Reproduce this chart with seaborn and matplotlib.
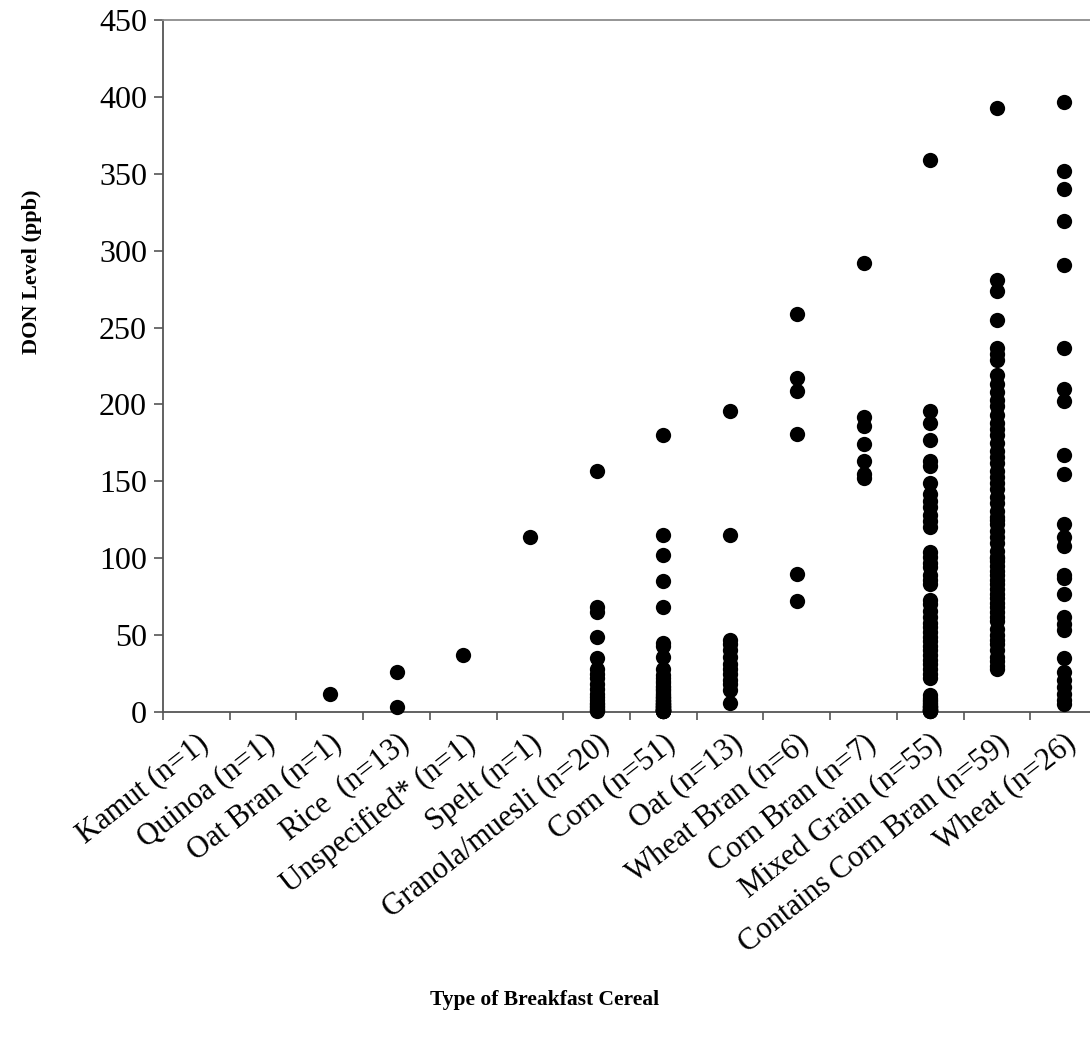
import numpy as np
import pandas as pd
import matplotlib
matplotlib.use("Agg")
import matplotlib.pyplot as plt
import seaborn as sns

# category labels (x axis, in plotted order)
categories = [
    "Kamut (n=1)", "Quinoa (n=1)", "Oat Bran (n=1)", "Rice  (n=13)",
    "Unspecified* (n=1)", "Spelt (n=1)", "Granola/muesli (n=20)",
    "Corn (n=51)", "Oat (n=13)", "Wheat Bran (n=6)", "Corn Bran (n=7)",
    "Mixed Grain (n=55)", "Contains Corn Bran (n=59)", "Wheat (n=26)",
]

# DON values (ppb)
kamut = []
quinoa = []
oat_bran = [12]
rice = [26, 3]
unspecified = [37]
spelt = [114]
granola = [157, 68, 65, 49, 35, 28, 25, 22, 18, 15, 12, 10, 8, 6, 5, 4, 3, 2, 1, 0.5]
corn = [180, 115, 102, 85, 68, 45, 43, 36, 28, 24, 22, 20, 19, 17, 16, 15, 14,
        13, 12, 11, 10, 10, 9, 8, 8, 7, 7, 6, 6, 5, 5, 5, 4, 4, 4, 3, 3, 3,
        2, 2, 2, 2, 1, 1, 1, 1, 0.5, 0.5, 0.5, 0.5, 0.5]
oat = [196, 115, 47, 44, 40, 36, 31, 28, 25, 21, 18, 14, 6]
wheat_bran = [259, 217, 209, 181, 90, 72]
corn_bran = [292, 192, 186, 174, 163, 155, 152]
mixed_grain = [359, 196, 188, 177, 163, 160, 149, 142, 137, 133, 128, 124, 120,
               104, 101, 97, 94, 89, 86, 83, 73, 70, 66, 62, 58, 55, 52, 49, 46,
               43, 40, 37, 34, 31, 28, 25, 22, 11, 9, 8, 7, 6, 5, 4, 4, 3, 3,
               2, 2, 1, 1, 1, 0.5, 0.5, 0.5]
contains_corn_bran = [393, 281, 274, 255, 237, 233, 229, 219, 213, 208, 203,
                      199, 193, 188, 184, 180, 175, 170, 166, 162, 157, 153,
                      149, 145, 140, 136, 131, 127, 125, 122, 118, 114, 110,
                      105, 101, 100, 98, 95, 92, 89, 86, 83, 80, 77, 74, 71,
                      68, 65, 62, 59, 54, 50, 47, 44, 40, 36, 33, 30, 28]
wheat = [397, 352, 340, 319, 291, 237, 210, 202, 167, 155, 122, 114, 108, 89,
         87, 77, 62, 57, 53, 35, 26, 21, 16, 12, 8, 5]

series = [kamut, quinoa, oat_bran, rice, unspecified, spelt, granola, corn, oat,
          wheat_bran, corn_bran, mixed_grain, contains_corn_bran, wheat]

df = pd.DataFrame(
    [(cat, v) for cat, vals in zip(categories, series) for v in vals],
    columns=["cereal", "don"],
)

sns.set_style("white")
plt.rcParams["font.family"] = ["Liberation Serif", "DejaVu Serif"]
plt.rcParams["text.color"] = "black"
plt.rcParams["axes.labelcolor"] = "black"

fig = plt.figure(figsize=(10.90, 10.41), dpi=100)
ax = fig.add_axes([163 / 1090, 1 - 712 / 1041, 934 / 1090, 692 / 1041])

sns.stripplot(data=df, x="cereal", y="don", order=categories, jitter=False,
              color="black", size=11, linewidth=0, ax=ax, clip_on=False,
              zorder=3)

ax.set_ylim(0, 450)
ax.set_xlim(-0.5, len(categories) - 0.5)
ax.set_yticks(np.arange(0, 451, 50))

# boundaries get the tick marks, centres get the labels
ax.set_xticks(np.arange(-0.5, len(categories), 1.0))
ax.set_xticklabels([])
ax.set_xticks(np.arange(len(categories)), minor=True)
ax.set_xticklabels(categories, minor=True, rotation=38, ha="right",
                   va="top", rotation_mode="anchor", fontsize=22)
ax.tick_params(axis="x", which="minor", length=0, pad=12, labelcolor="black")
ax.tick_params(axis="x", which="major", direction="out", length=6,
               width=1.2, color="#555555", bottom=True)
ax.tick_params(axis="y", direction="out", length=6.5, width=1.2,
               color="#555555", labelsize=23, labelcolor="black", left=True,
               pad=5)

for side in ["left", "bottom"]:
    ax.spines[side].set_color("#555555")
    ax.spines[side].set_linewidth(1.3)
ax.spines["top"].set_color("#8c8c8c")
ax.spines["top"].set_linewidth(1.3)
ax.spines["right"].set_visible(False)

ax.set_xlabel("")
ax.set_ylabel("DON Level (ppb)", fontsize=16, fontweight="bold")
ax.yaxis.set_label_coords(-0.1295, 0.636)

fig.text(545 / 1090, 1 - 1000 / 1041, "Type of Breakfast Cereal",
         ha="center", va="center", fontsize=15.5, fontweight="bold")

fig.savefig("out.png", dpi=100, facecolor="white")
